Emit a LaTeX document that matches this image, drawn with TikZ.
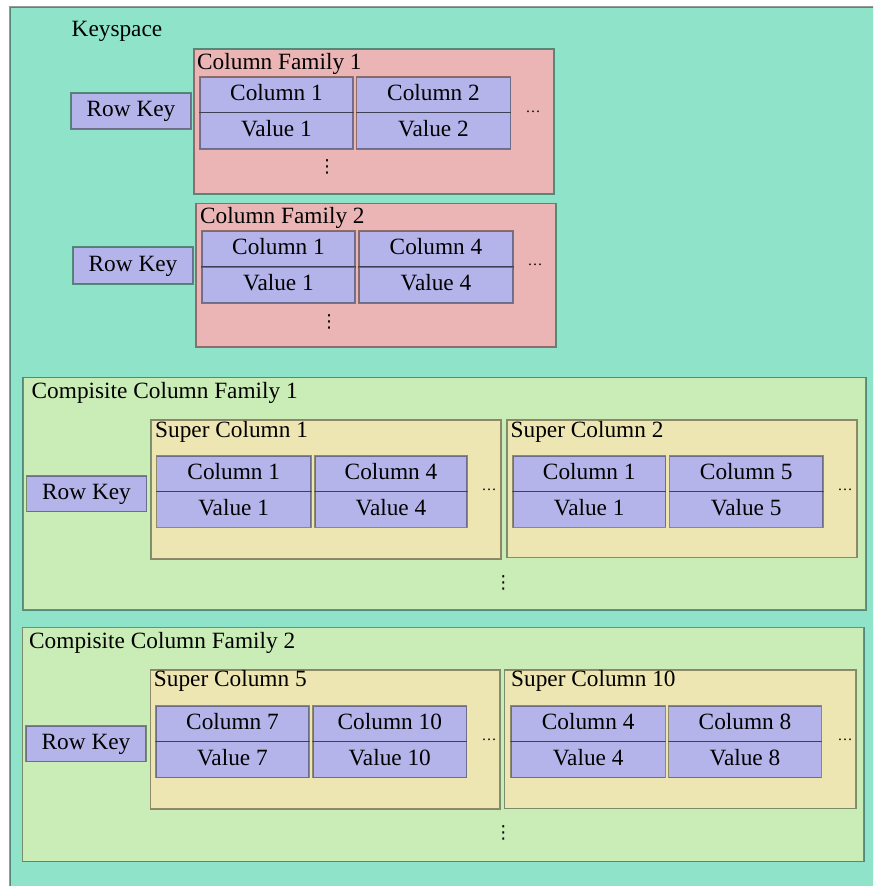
\documentclass[tikz,border=0pt]{standalone}
\usepackage{fontspec}
\setmainfont{Liberation Serif}
\newfontfamily\symfont{DejaVu Sans}
\definecolor{ksfill}{HTML}{8EE3C8}
\definecolor{cffill}{HTML}{EBB5B5}
\definecolor{cellfill}{HTML}{B4B4EB}
\definecolor{ccffill}{HTML}{CAECB6}
\definecolor{scfill}{HTML}{EEE6B2}
\tikzset{
  frame/.style={draw=black, draw opacity=0.4, line width=1.1pt},
  lbl/.style={anchor=base west, inner sep=0pt, font=\fontsize{23.3}{28}\selectfont},
  celltext/.style={font=\fontsize{23.3}{28}\selectfont, text height=0.66em, text depth=0.1em, inner sep=0pt, yshift=-3pt},
  more/.style={inner sep=0pt, font=\fontsize{15}{16}\selectfont},
  down/.style={inner sep=0pt, font=\symfont\fontsize{18}{20}\selectfont},
}
% a filled, framed box given by its two corners
\newcommand{\boxat}[6]{%
  \draw[frame, fill=#6] (#1,#2) rectangle (#3,#4);
  \node[celltext] (#5) at ({(#1+#3)/2},{(#2+#4)/2}) {};}
% a lavender cell given by its two corners, with centred text
\newcommand{\cellat}[6]{%
  \draw[frame, fill=cellfill] (#1,#2) rectangle (#3,#4);
  \node[celltext] (#5) at ({(#1+#3)/2},{(#2+#4)/2}) {#6};}
\begin{document}
\begin{tikzpicture}[x=1pt, y=-1pt]
\useasboundingbox (0,0) rectangle (873,886);
\clip (0,0) rectangle (873,886);
\fill[white] (0,0) rectangle (873,886);

% keyspace
\boxat{10}{7}{890}{900}{ks}{ksfill}
\node[lbl] (kslabel) at (71.5,36) {Keyspace};

% column family 1
\boxat{194}{49}{554}{194}{cf1}{cffill}
\node[lbl] (cf1label) at (197,69) {Column Family 1};
\cellat{71}{93}{191}{129}{rk1}{Row Key}
\cellat{200}{77}{353}{112.5}{cf1c1}{Column 1}
\cellat{200}{112.5}{353}{149}{cf1v1}{Value 1}
\cellat{356.5}{77}{510.5}{112.5}{cf1c2}{Column 2}
\cellat{356.5}{112.5}{510.5}{149}{cf1v2}{Value 2}
\node[more] (cf1more) at (533,112) {…};
\node[down] (cf1down) at (327,167) {⋮};

% column family 2
\boxat{196}{203.5}{556}{347}{cf2}{cffill}
\node[lbl] (cf2label) at (200,223) {Column Family 2};
\cellat{73}{247}{193}{284}{rk2}{Row Key}
\cellat{202}{231}{355}{267}{cf2c1}{Column 1}
\cellat{202}{267}{355}{303}{cf2v1}{Value 1}
\cellat{359}{231}{513}{267}{cf2c4}{Column 4}
\cellat{359}{267}{513}{303}{cf2v4}{Value 4}
\node[more] (cf2more) at (535,265) {…};
\node[down] (cf2down) at (329,322) {⋮};

% composite column family 1
\boxat{23}{377.5}{866}{610}{ccf1}{ccffill}
\node[lbl] (ccf1label) at (31.5,398) {Compisite Column Family 1};
\cellat{26.5}{476}{146.5}{511.5}{rk3}{Row Key}
\boxat{151}{420}{501}{559}{sc1}{scfill}
\node[lbl] (sc1label) at (155,437) {Super Column 1};
\cellat{156.5}{456}{311}{491.5}{sc1c1}{Column 1}
\cellat{156.5}{491.5}{311}{527.3}{sc1v1}{Value 1}
\cellat{315}{456}{467}{491.5}{sc1c4}{Column 4}
\cellat{315}{491.5}{467}{527.3}{sc1v4}{Value 4}
\node[more] (sc1more) at (489,490) {…};
\boxat{507}{420}{857}{557.5}{sc2}{scfill}
\node[lbl] (sc2label) at (510.5,437) {Super Column 2};
\cellat{513}{456}{665.5}{491.5}{sc2c1}{Column 1}
\cellat{513}{491.5}{665.5}{527.3}{sc2v1}{Value 1}
\cellat{669.5}{456}{823}{491.5}{sc2c5}{Column 5}
\cellat{669.5}{491.5}{823}{527.3}{sc2v5}{Value 5}
\node[more] (sc2more) at (845,490) {…};
\node[down] (ccf1down) at (503.3,583.3) {⋮};

% composite column family 2
\boxat{22.3}{627.3}{864}{861.3}{ccf2}{ccffill}
\node[lbl] (ccf2label) at (29,648.3) {Compisite Column Family 2};
\cellat{26}{726}{146}{761.7}{rk4}{Row Key}
\boxat{150.3}{670}{500}{809}{sc5}{scfill}
\node[lbl] (sc5label) at (153.7,686.7) {Super Column 5};
\cellat{156}{706}{309}{741.7}{sc5c7}{Column 7}
\cellat{156}{741.7}{309}{777.7}{sc5v7}{Value 7}
\cellat{313}{706}{466.6}{741.7}{sc5c10}{Column 10}
\cellat{313}{741.7}{466.6}{777.7}{sc5v10}{Value 10}
\node[more] (sc5more) at (489,740) {…};
\boxat{504.5}{670}{856}{808.3}{sc10}{scfill}
\node[lbl] (sc10label) at (511,686.7) {Super Column 10};
\cellat{511}{706}{665.4}{741.7}{sc10c4}{Column 4}
\cellat{511}{741.7}{665.4}{777.7}{sc10v4}{Value 4}
\cellat{668.7}{706}{821.3}{741.7}{sc10c8}{Column 8}
\cellat{668.7}{741.7}{821.3}{777.7}{sc10v8}{Value 8}
\node[more] (sc10more) at (845,740) {…};
\node[down] (ccf2down) at (503.3,833.3) {⋮};
\end{tikzpicture}
\end{document}
